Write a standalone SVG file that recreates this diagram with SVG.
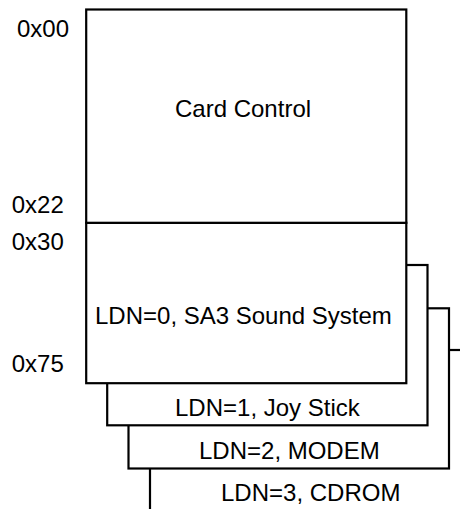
<svg xmlns="http://www.w3.org/2000/svg" width="460" height="509" viewBox="0 0 460 509">
<style>
.box{fill:#fff;stroke:#000;stroke-width:2.2}
.t{font-family:"Liberation Sans",Arial,sans-serif;font-size:24px;fill:#000}
</style>
<rect width="460" height="509" fill="#fff"/>
<g id="ldn3"><rect class="box" x="150" y="350" width="320" height="170"/><text class="t" x="221" y="500.5">LDN=3, CDROM</text></g>
<g id="ldn2"><rect class="box" x="128.5" y="308.3" width="320.5" height="160.2"/><text class="t" x="199" y="459">LDN=2, MODEM</text></g>
<g id="ldn1"><rect class="box" x="107.2" y="265" width="320.3" height="160.3"/><text class="t" x="175" y="415.5">LDN=1, Joy Stick</text></g>
<g id="ldn0"><rect class="box" x="86.2" y="222.8" width="320.1" height="160.4"/><text class="t" x="95" y="324">LDN=0, SA3 Sound System</text></g>
<g id="card-control"><rect class="box" x="86.2" y="9.5" width="320.1" height="213.3"/><text class="t" x="175" y="117.3">Card Control</text></g>
<g id="addresses">
<text class="t" x="17" y="36.7">0x00</text>
<text class="t" x="11.7" y="213.3">0x22</text>
<text class="t" x="11.7" y="250">0x30</text>
<text class="t" x="11.7" y="372">0x75</text>
</g>
<g id="connectors"/>
</svg>
